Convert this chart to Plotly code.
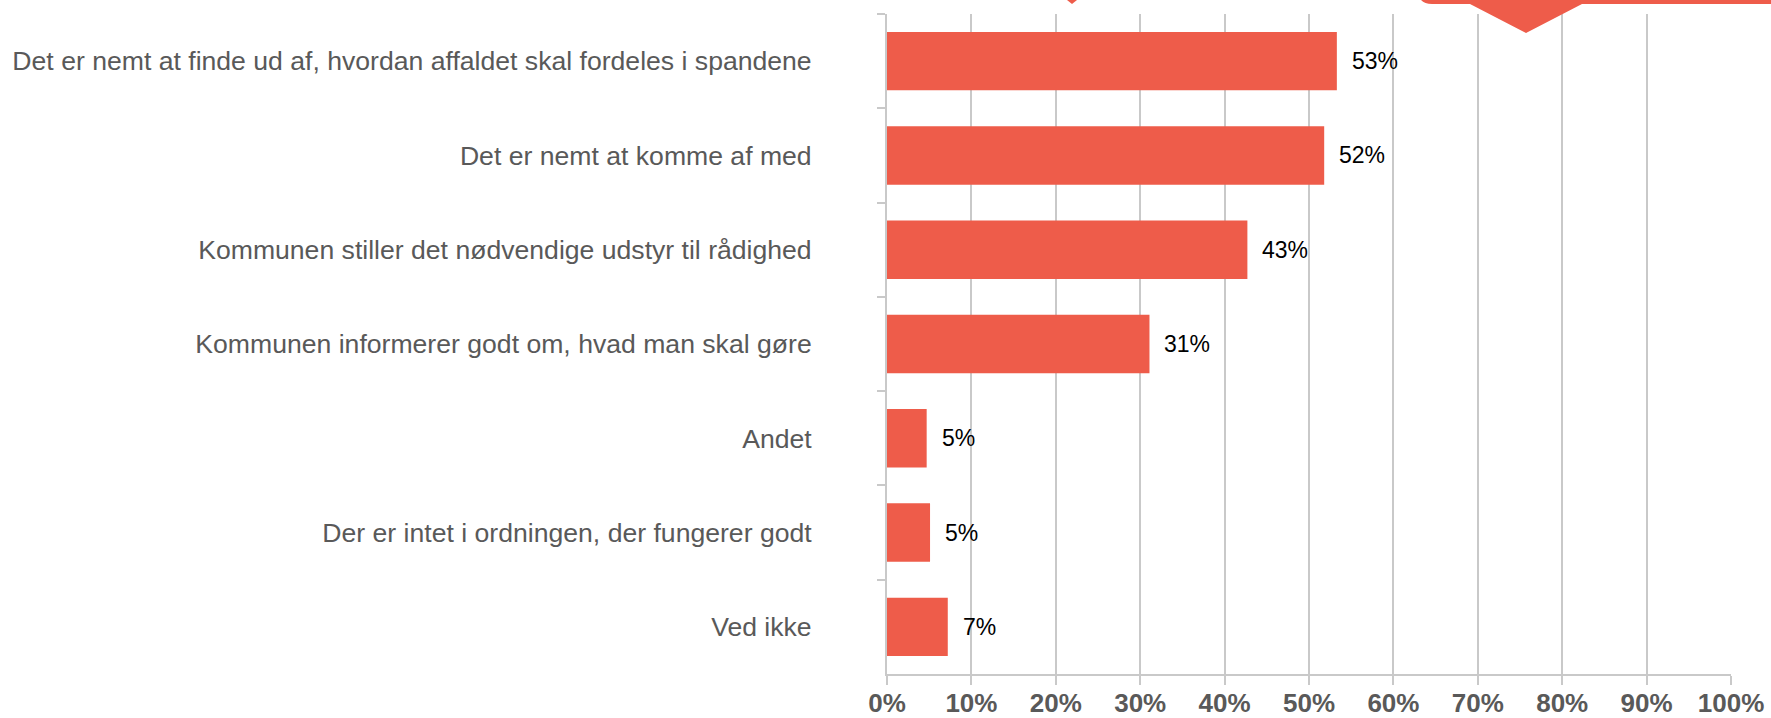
import plotly.graph_objects as go

categories = [
    "Det er nemt at finde ud af, hvordan affaldet skal fordeles i spandene",
    "Det er nemt at komme af med",
    "Kommunen stiller det nødvendige udstyr til rådighed",
    "Kommunen informerer godt om, hvad man skal gøre",
    "Andet",
    "Der er intet i ordningen, der fungerer godt",
    "Ved ikke",
]
values = [0.533, 0.518, 0.427, 0.311, 0.047, 0.051, 0.072]
x_ticks = [0.0, 0.1, 0.2, 0.3, 0.4, 0.5, 0.6, 0.7, 0.8, 0.9, 1.0]
x_tick_labels = ["0%", "10%", "20%", "30%", "40%", "50%", "60%", "70%", "80%", "90%", "100%"]

BAR = "#EE5C4A"
GRID = "#C9C9C9"
TXT = "#595959"

W, H = 1771, 718
ML, MR, MT, MB = 887, 40, 14, 44

fig = go.Figure()
fig.add_trace(go.Bar(
    y=categories, x=values, orientation="h",
    marker=dict(color=BAR, line=dict(width=0)),
    hoverinfo="skip",
))

for c, v in zip(categories, values):
    fig.add_annotation(
        x=v, y=c, xref="x", yref="y",
        text=f"{round(v * 100):.0f}%",
        showarrow=False, xanchor="left", yanchor="middle",
        xshift=13,
        font=dict(family="Liberation Sans, Arial, sans-serif", size=23, color="#000000"),
    )

# decorative callout shapes cropped at the top edge
def px(xp):
    return (xp - ML) / (W - ML - MR)

def py(yp):
    return 1 - (yp - MT) / (H - MT - MB)

fig.add_shape(type="path", xref="paper", yref="paper",
              path=f"M {px(1062)} {py(-4)} L {px(1072)} {py(4)} L {px(1082)} {py(-4)} Z",
              fillcolor=BAR, line=dict(width=0), layer="above")
fig.add_shape(type="path", xref="paper", yref="paper",
              path=(f"M {px(1418)} {py(-10)} Q {px(1418)} {py(4)} {px(1432)} {py(4)} "
                    f"L {px(1470)} {py(4)} L {px(1526)} {py(33)} L {px(1582)} {py(4)} "
                    f"L {px(1775)} {py(4)} L {px(1775)} {py(-10)} Z"),
              fillcolor=BAR, line=dict(width=0), layer="above")

fig.update_layout(
    width=W, height=H,
    margin=dict(l=ML, r=MR, t=MT, b=MB, autoexpand=False),
    paper_bgcolor="white", plot_bgcolor="white",
    showlegend=False,
    bargap=0.38,
    xaxis=dict(
        range=[0, 1], tickvals=x_ticks, ticktext=x_tick_labels,
        automargin=False,
        showgrid=True, gridcolor=GRID, gridwidth=2,
        zeroline=False,
        showline=True, linecolor=GRID, linewidth=2,
        ticks="outside", ticklen=9, tickwidth=2, tickcolor=GRID,
        ticklabelstandoff=-4,
        tickfont=dict(family="Liberation Sans, Arial, sans-serif", size=26, color=TXT, weight="bold"),
        fixedrange=True,
    ),
    yaxis=dict(
        type="category", categoryorder="array", categoryarray=categories,
        autorange="reversed",
        automargin=False,
        showgrid=False, zeroline=False,
        showline=True, linecolor=GRID, linewidth=2,
        ticks="outside", ticklen=8, tickwidth=2, tickcolor=GRID,
        tickson="boundaries",
        ticklabelstandoff=68,
        tickfont=dict(family="Liberation Sans, Arial, sans-serif", size=26.6, color=TXT),
        fixedrange=True,
    ),
)

fig.write_html(
    "out.html",
    config={"displayModeBar": False},
    post_script="document.body.style.margin='0';document.body.style.overflow='hidden';",
)
